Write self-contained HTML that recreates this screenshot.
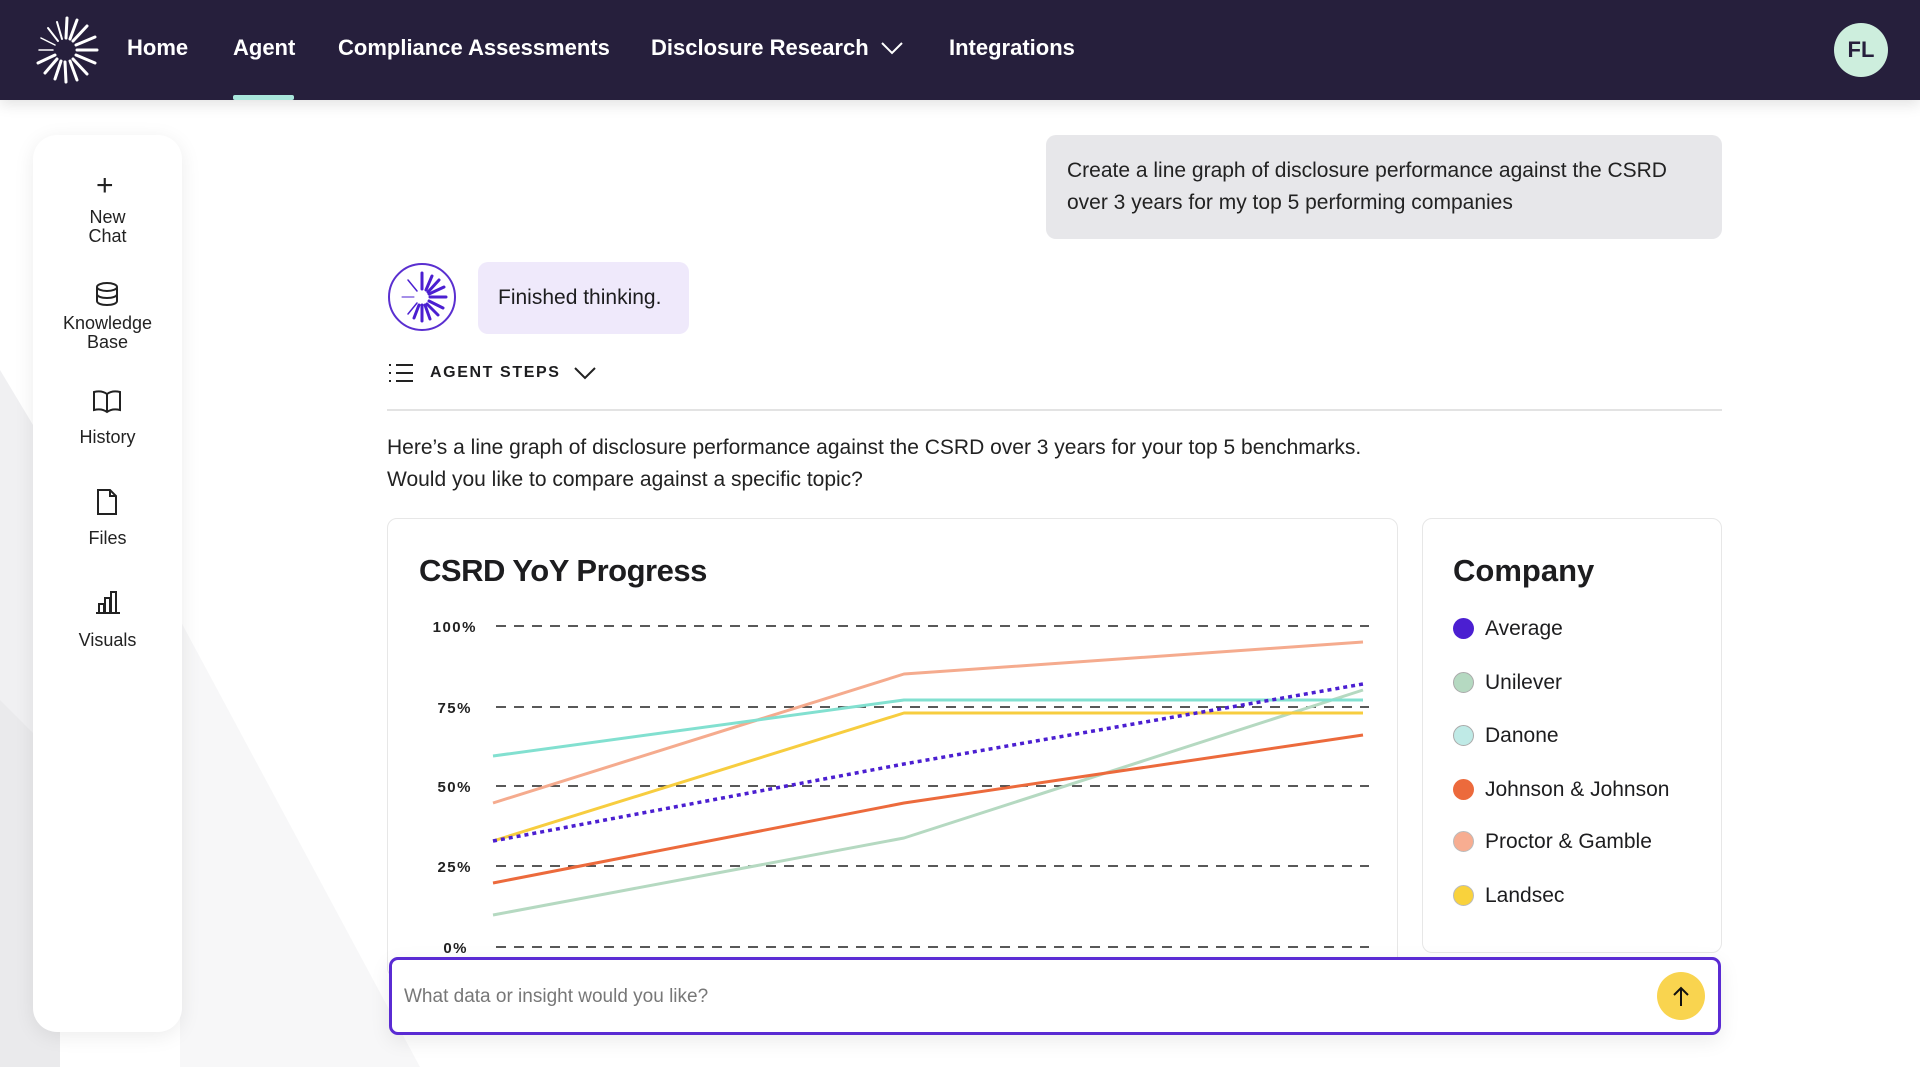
<!DOCTYPE html>
<html><head><meta charset="utf-8"><style>
*{margin:0;padding:0;box-sizing:border-box}
body{width:1920px;height:1067px;overflow:hidden;background:#fff;font-family:"Liberation Sans",sans-serif;color:#1d1d1f;position:relative}
.a{position:absolute;white-space:nowrap}
.nav{position:absolute;left:0;top:0;width:1920px;height:100px;background:#261f3c;box-shadow:0 4px 14px rgba(0,0,0,.12)}
.nv{position:absolute;top:35px;color:#fff;font-size:22px;font-weight:bold}
.side{position:absolute;left:33px;top:135px;width:149px;height:897px;background:#fff;border-radius:24px;box-shadow:0 4px 20px rgba(0,0,0,.08)}
.sl{position:absolute;width:149px;text-align:center;left:33px;font-size:18px;line-height:19px;color:#222}
.card{position:absolute;background:#fff;border:1.5px solid #e7e7e7;border-radius:10px}
</style></head><body>
<svg class="a" style="left:0;top:0" width="1920" height="1067">
<polygon points="0,370 60,470 60,1067 0,1067" fill="#f0f0f2"/>
<polygon points="180,620 420,1067 180,1067" fill="#f7f7f8"/>
<polygon points="0,700 60,760 60,1067 0,1067" fill="#eaeaec"/>
</svg>
<div class="nav">
<svg class="a" style="left:30px;top:15px" width="70" height="70" viewBox="-35 -35 70 70">
<g stroke="#fff" stroke-width="3" stroke-linecap="round">
<line x1="12" y1="0" x2="32" y2="0"/><line x1="11" y1="5" x2="30" y2="13"/><line x1="8" y1="9" x2="22" y2="24"/><line x1="5" y1="11" x2="12" y2="30"/><line x1="0" y1="12" x2="1" y2="32"/><line x1="-4" y1="11" x2="-10" y2="29"/><line x1="-8" y1="9" x2="-20" y2="23"/><line x1="-10" y1="5" x2="-27" y2="13"/><line x1="-12" y1="0" x2="-26" y2="0" stroke-width="1.5"/><line x1="-10" y1="-5" x2="-24" y2="-12" stroke-width="1.5"/><line x1="-7" y1="-9" x2="-17" y2="-22" stroke-width="2"/><line x1="-3" y1="-11" x2="-8" y2="-28" stroke-width="2"/><line x1="1" y1="-12" x2="2" y2="-32"/><line x1="5" y1="-11" x2="12" y2="-30"/><line x1="8" y1="-9" x2="22" y2="-24"/><line x1="11" y1="-5" x2="30" y2="-13"/>
</g></svg>
<div class="nv" style="left:127px">Home</div>
<div class="nv" style="left:233px">Agent</div>
<div class="nv" style="left:338px">Compliance Assessments</div>
<div class="nv" style="left:651px">Disclosure Research</div>
<svg class="a" style="left:880px;top:40px" width="24" height="16"><polyline points="2,3 12,13 22,3" fill="none" stroke="#fff" stroke-width="2"/></svg>
<div class="nv" style="left:949px">Integrations</div>
<div class="a" style="left:233px;top:95px;width:61px;height:5px;background:#a9e6dc;border-radius:2px"></div>
<div class="a" style="left:1834px;top:23px;width:54px;height:54px;border-radius:50%;background:#cdeedd;color:#261f3c;font-weight:bold;font-size:22px;text-align:center;line-height:54px">FL</div>
</div>
<div class="side"></div>
<div class="a" style="left:96px;top:174px;font-size:30px;line-height:24px;color:#222">+</div>
<div class="sl" style="top:208px">New<br>Chat</div>
<svg class="a" style="left:94px;top:281px" width="26" height="28"><g fill="none" stroke="#222" stroke-width="2"><ellipse cx="13" cy="6" rx="10" ry="4"/><path d="M3 6v14c0 2.5 4.5 4 10 4s10-1.5 10-4V6M3 13c0 2.5 4.5 4 10 4s10-1.5 10-4"/></g></svg>
<div class="sl" style="top:314px">Knowledge<br>Base</div>
<svg class="a" style="left:92px;top:389px" width="30" height="26"><g fill="none" stroke="#222" stroke-width="2"><path d="M15 5C11 2 6 2 2 3v18c4-1 9-1 13 2 4-3 9-3 13-2V3c-4-1-9-1-13 2v18"/></g></svg>
<div class="sl" style="top:428px">History</div>
<svg class="a" style="left:95px;top:488px" width="24" height="28"><path d="M3 2h12l6 6v18H3z M15 2v6h6" fill="none" stroke="#222" stroke-width="2"/></svg>
<div class="sl" style="top:529px">Files</div>
<svg class="a" style="left:94px;top:589px" width="28" height="26"><g fill="none" stroke="#222" stroke-width="2"><path d="M2 24h24M5 24V15h5v9M11 24V9h5v15M17 24V3h5v21"/></g></svg>
<div class="sl" style="top:631px">Visuals</div>

<div class="a" style="left:1046px;top:135px;width:676px;height:104px;background:#e7e7ea;border-radius:10px"></div>
<div class="a" style="left:1067px;top:155px;font-size:21px;line-height:32px;color:#222">Create a line graph of disclosure performance against the CSRD<br>over 3 years for my top 5 performing companies</div>

<svg class="a" style="left:386px;top:261px" width="72" height="72" viewBox="-36 -36 72 72">
<circle r="33" fill="#fff" stroke="#5a2fd0" stroke-width="2"/>
<g stroke="#4b1fd1" stroke-width="3" stroke-linecap="round">
<line x1="8" y1="0" x2="24" y2="0"/><line x1="7" y1="4" x2="21" y2="11"/><line x1="5" y1="7" x2="16" y2="18"/><line x1="3" y1="8" x2="8" y2="22"/><line x1="0" y1="8" x2="0" y2="24"/><line x1="-3" y1="8" x2="-8" y2="21"/><line x1="-5" y1="6" x2="-14" y2="17" stroke-width="1.5"/><line x1="-8" y1="0" x2="-20" y2="0" stroke-width="1"/><line x1="-5" y1="-6" x2="-14" y2="-17" stroke-width="1.5"/><line x1="0" y1="-8" x2="0" y2="-24"/><line x1="4" y1="-7" x2="10" y2="-21"/><line x1="6" y1="-5" x2="17" y2="-17"/><line x1="7" y1="-3" x2="22" y2="-10"/>
</g></svg>
<div class="a" style="left:478px;top:262px;width:211px;height:72px;background:#efe9fb;border-radius:10px"></div>
<div class="a" style="left:498px;top:286px;font-size:21px">Finished thinking.</div>

<svg class="a" style="left:388px;top:362px" width="26" height="22"><g stroke="#222" stroke-width="2"><line x1="1" y1="3" x2="3" y2="3"/><line x1="1" y1="11" x2="3" y2="11"/><line x1="1" y1="19" x2="3" y2="19"/><line x1="8" y1="3" x2="25" y2="3"/><line x1="8" y1="11" x2="25" y2="11"/><line x1="8" y1="19" x2="25" y2="19"/></g></svg>
<div class="a" style="left:430px;top:364px;font-size:16px;font-weight:bold;letter-spacing:1.6px">AGENT STEPS</div>
<svg class="a" style="left:573px;top:365px" width="24" height="16"><polyline points="2,3 12,13 22,3" fill="none" stroke="#222" stroke-width="2"/></svg>
<div class="a" style="left:387px;top:409px;width:1335px;height:2px;background:#e3e3e3"></div>
<div class="a" style="left:387px;top:432px;font-size:21px;line-height:32px;color:#222">Here’s a line graph of disclosure performance against the CSRD over 3 years for your top 5 benchmarks.<br>Would you like to compare against a specific topic?</div>

<div class="card" style="left:387px;top:518px;width:1011px;height:460px"></div>
<div class="a" style="left:419px;top:553px;font-size:31px;font-weight:bold;letter-spacing:-0.5px">CSRD YoY Progress</div>
<svg class="a" style="left:0;top:0" width="1920" height="1067">
<g stroke="#222" stroke-width="1.6" stroke-dasharray="10,8">
<line x1="496" y1="626" x2="1369" y2="626"/><line x1="496" y1="707" x2="1369" y2="707"/><line x1="496" y1="786" x2="1369" y2="786"/><line x1="496" y1="866" x2="1369" y2="866"/><line x1="496" y1="947" x2="1369" y2="947"/>
</g>
<g font-family="Liberation Sans" font-size="15" font-weight="bold" fill="#222" text-anchor="end" letter-spacing="1.5">
<text x="477" y="632">100%</text><text x="472" y="713">75%</text><text x="472" y="792">50%</text><text x="472" y="872">25%</text><text x="468" y="953">0%</text>
</g>
<g fill="none" stroke-width="3" stroke-linejoin="round">
<polyline points="493,915 904,838 1363,690" stroke="#b5d9c1"/>
<polyline points="493,883 904,803 1363,735" stroke="#ec6a3c"/>
<polyline points="493,841 904,713 1363,713" stroke="#f7cd3f"/>
<polyline points="493,803 904,674 1363,642" stroke="#f5ab8e"/>
<polyline points="493,756 904,700 1363,700" stroke="#82e0d0"/>
<polyline points="493,841 904,764 1363,684" stroke="#4b1fd1" stroke-dasharray="4,4" stroke-width="3.5"/>
</g>
</svg>

<div class="card" style="left:1422px;top:518px;width:300px;height:435px"></div>
<div class="a" style="left:1453px;top:553px;font-size:31px;font-weight:bold">Company</div>
<div class="a" style="left:1453px;top:618px;width:21px;height:21px;border-radius:50%;background:#4b1fd1"></div><div class="a" style="left:1485px;top:617px;font-size:21px">Average</div>
<div class="a" style="left:1453px;top:672px;width:21px;height:21px;border-radius:50%;background:#b5d9c1;border:1px solid #aaa"></div><div class="a" style="left:1485px;top:671px;font-size:21px">Unilever</div>
<div class="a" style="left:1453px;top:725px;width:21px;height:21px;border-radius:50%;background:#bfeae6;border:1px solid #aaa"></div><div class="a" style="left:1485px;top:724px;font-size:21px">Danone</div>
<div class="a" style="left:1453px;top:779px;width:21px;height:21px;border-radius:50%;background:#ec6a3c"></div><div class="a" style="left:1485px;top:778px;font-size:21px">Johnson &amp; Johnson</div>
<div class="a" style="left:1453px;top:831px;width:21px;height:21px;border-radius:50%;background:#f7ad91;border:1px solid #bbb"></div><div class="a" style="left:1485px;top:830px;font-size:21px">Proctor &amp; Gamble</div>
<div class="a" style="left:1453px;top:885px;width:21px;height:21px;border-radius:50%;background:#f9d23c;border:1px solid #bbb"></div><div class="a" style="left:1485px;top:884px;font-size:21px">Landsec</div>

<div class="a" style="left:389px;top:957px;width:1332px;height:78px;background:#fff;border:3.5px solid #5a2bd3;border-radius:9px;box-shadow:0 6px 20px rgba(0,0,0,.08)"></div>
<div class="a" style="left:404px;top:986px;font-size:19px;color:#777">What data or insight would you like?</div>
<div class="a" style="left:1657px;top:972px;width:48px;height:48px;border-radius:50%;background:#f9d44f"></div>
<svg class="a" style="left:1671px;top:984px" width="20" height="24"><g stroke="#111" stroke-width="2" fill="none"><line x1="10" y1="4" x2="10" y2="22"/><polyline points="3,11 10,4 17,11"/></g></svg>
</body></html>
